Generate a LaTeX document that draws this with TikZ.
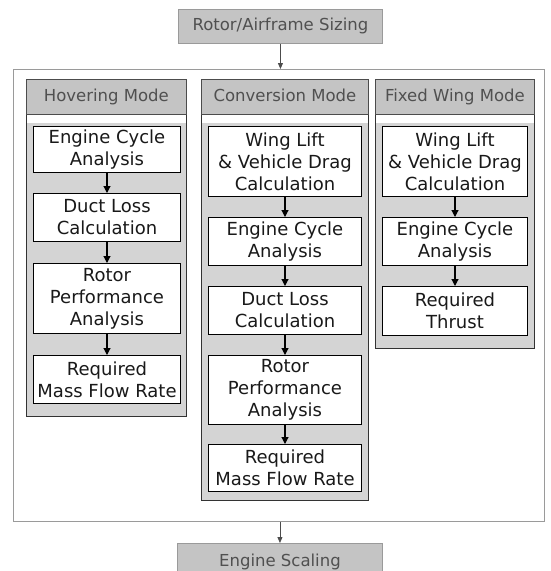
\documentclass[tikz,border=0pt]{standalone}
\usepackage{fontspec}
\setmainfont{DejaVu Sans}
\usetikzlibrary{arrows.meta}
\definecolor{hdrfill}{HTML}{C4C4C4}
\definecolor{bodyfill}{HTML}{D4D4D4}
\definecolor{hdrtext}{HTML}{505050}
\definecolor{framegray}{HTML}{9A9A9A}
\tikzset{
  gbox/.style={draw=framegray, line width=0.9pt, fill=hdrfill, text=hdrtext, inner sep=0pt,
    text height=12pt, text depth=3.5pt, font=\fontsize{16.5}{20}\selectfont},
  outerbox/.style={draw=framegray, line width=0.9pt, inner sep=0pt},
  panel/.style={draw=black!80, line width=1pt, fill=bodyfill, inner sep=0pt, anchor=north west},
  header/.style={draw=black!70, line width=0.8pt, fill=hdrfill, text=hdrtext, inner sep=0pt, anchor=north west,
    text height=12pt, text depth=3.5pt, font=\fontsize{16.5}{20}\selectfont},
  strip/.style={fill=white, inner sep=0pt, anchor=north west},
  stepbox/.style={draw=black, line width=1pt, fill=white, text=black!90, align=center, inner sep=0pt,
    anchor=north west, font=\fontsize{18}{22}\selectfont},
  flow/.style={-{Triangle[length=7pt,width=7pt]}, line width=1.1pt, black},
  thinflow/.style={-{Triangle[length=6pt,width=5pt]}, line width=0.8pt, black!70},
}
\begin{document}
\begin{tikzpicture}[x=1pt,y=-1pt]
\useasboundingbox (0,0) rectangle (550,571);
\clip (0,0) rectangle (550,571);
% top and bottom
\node[gbox, minimum width=204pt, minimum height=34pt, anchor=north west] (top) at (178,9) {Rotor/Airframe Sizing};
\node[outerbox, minimum width=531pt, minimum height=452pt, anchor=north west] (outer) at (13,69) {};
\node[gbox, minimum width=205pt, minimum height=38pt, anchor=north west] (scale) at (177,543) {Engine Scaling};
\draw[thinflow] (top.south) -- (top.south |- outer.north);
\draw[thinflow] (scale.north |- outer.south) -- (scale.north);

% Hovering panel
\node[panel, minimum width=160pt, minimum height=337pt] (pH) at (26,79) {};
\node[header, minimum width=160pt, minimum height=35pt] (hH) at (26,79) {Hovering Mode};
\node[strip, minimum width=159pt, minimum height=8pt] (sH) at (26.5,114.5) {};
\node[stepbox, minimum width=147pt, minimum height=46pt] (h1) at (33,126) {Engine Cycle\\Analysis};
\node[stepbox, minimum width=147pt, minimum height=48pt] (h2) at (33,193) {Duct Loss\\Calculation};
\node[stepbox, minimum width=147pt, minimum height=70pt] (h3) at (33,263) {Rotor\\Performance\\Analysis};
\node[stepbox, minimum width=147pt, minimum height=48pt] (h4) at (33,355) {Required\\Mass Flow Rate};
\draw[flow] (h1) -- (h2);
\draw[flow] (h2) -- (h3);
\draw[flow] (h3) -- (h4);

% Conversion panel
\node[panel, minimum width=167pt, minimum height=421pt] (pC) at (201,79) {};
\node[header, minimum width=167pt, minimum height=35pt] (hC) at (201,79) {Conversion Mode};
\node[strip, minimum width=166pt, minimum height=8pt] (sC) at (201.5,114.5) {};
\node[stepbox, minimum width=153pt, minimum height=70pt] (c1) at (208,126) {Wing Lift\\\& Vehicle Drag\\Calculation};
\node[stepbox, minimum width=153pt, minimum height=48pt] (c2) at (208,217) {Engine Cycle\\Analysis};
\node[stepbox, minimum width=153pt, minimum height=48pt] (c3) at (208,286) {Duct Loss\\Calculation};
\node[stepbox, minimum width=153pt, minimum height=69pt] (c4) at (208,355) {Rotor\\Performance\\Analysis};
\node[stepbox, minimum width=153pt, minimum height=47pt] (c5) at (208,444) {Required\\Mass Flow Rate};
\draw[flow] (c1) -- (c2);
\draw[flow] (c2) -- (c3);
\draw[flow] (c3) -- (c4);
\draw[flow] (c4) -- (c5);

% Fixed wing panel
\node[panel, minimum width=159pt, minimum height=269pt] (pF) at (375,79) {};
\node[header, minimum width=159pt, minimum height=35pt] (hF) at (375,79) {Fixed Wing Mode};
\node[strip, minimum width=158pt, minimum height=8pt] (sF) at (375.5,114.5) {};
\node[stepbox, minimum width=145pt, minimum height=70pt] (f1) at (382,126) {Wing Lift\\\& Vehicle Drag\\Calculation};
\node[stepbox, minimum width=145pt, minimum height=48pt] (f2) at (382,217) {Engine Cycle\\Analysis};
\node[stepbox, minimum width=145pt, minimum height=49pt] (f3) at (382,286) {Required\\Thrust};
\draw[flow] (f1) -- (f2);
\draw[flow] (f2) -- (f3);
\end{tikzpicture}
\end{document}
